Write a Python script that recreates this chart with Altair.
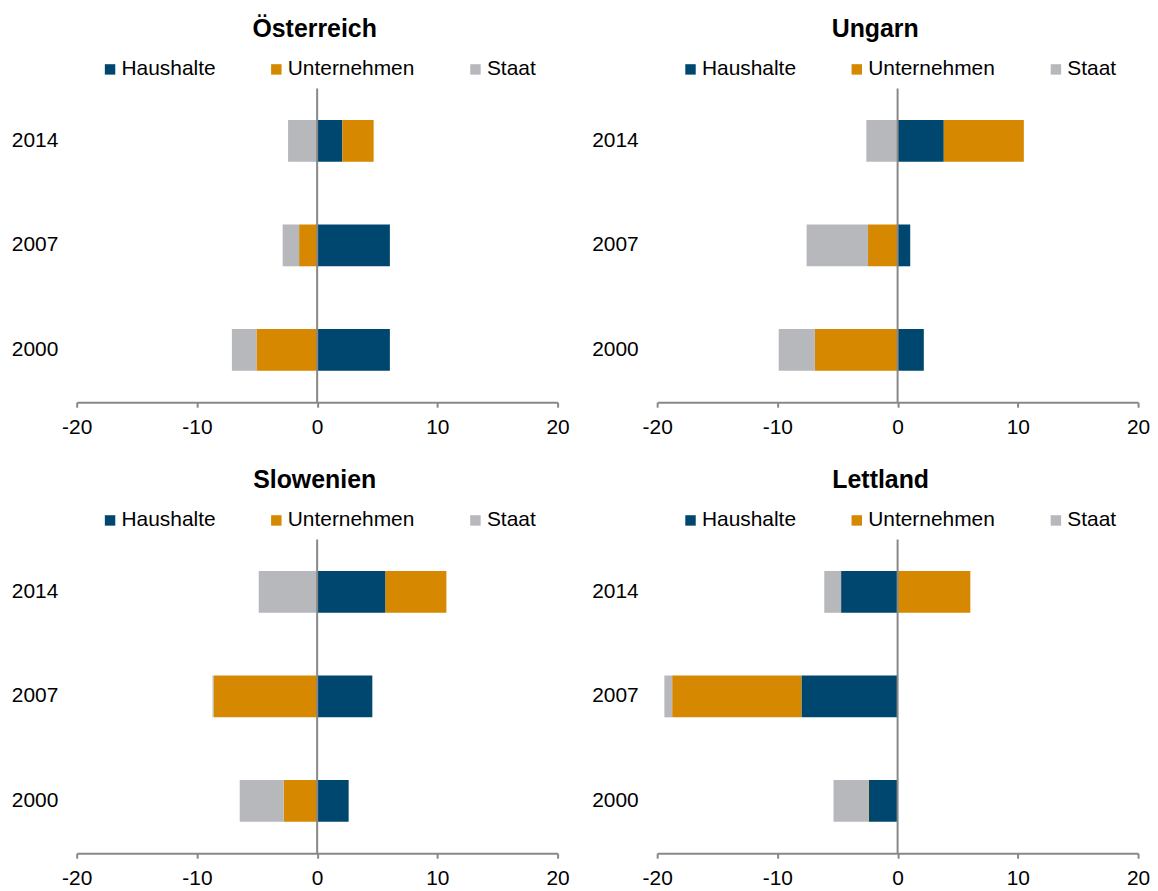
import altair as alt
import pandas as pd

countries = ["Österreich", "Ungarn", "Slowenien", "Lettland"]
years = ["2014", "2007", "2000"]
sectors = ["Haushalte", "Unternehmen", "Staat"]
colors = ["#00476F", "#D58800", "#B7B8BC"]

# values per country, in the order of `years`
haushalte = {
    "Österreich": [2.1, 6.05, 6.05],
    "Ungarn": [3.84, 1.05, 2.18],
    "Slowenien": [5.69, 4.59, 2.62],
    "Lettland": [-4.7, -8.0, -2.38],
}
unternehmen = {
    "Österreich": [2.6, -1.5, -5.05],
    "Ungarn": [6.66, -2.46, -6.88],
    "Slowenien": [5.06, -8.62, -2.79],
    "Lettland": [6.05, -10.75, -0.05],
}
staat = {
    "Österreich": [-2.42, -1.37, -2.04],
    "Ungarn": [-2.6, -5.11, -3.01],
    "Slowenien": [-4.86, -0.08, -3.65],
    "Lettland": [-1.4, -0.65, -2.9],
}
title_dx = {"Österreich": -2.5, "Ungarn": -22.5, "Slowenien": -2.5, "Lettland": -17}

rows = []
for c in countries:
    for i, y in enumerate(years):
        for rank, (s, src) in enumerate(zip(sectors, [haushalte, unternehmen, staat])):
            rows.append({"country": c, "year": y, "sector": s, "value": src[c][i], "rank": rank})
df = pd.DataFrame(rows)
zero_df = pd.DataFrame({"x": [0]})

FONT = "Liberation Sans"


def panel(country):
    d = df[df.country == country]
    xscale = alt.Scale(domain=[-20, 20], nice=False, zero=False)
    bars = alt.Chart(d).mark_bar().encode(
        x=alt.X(
            "value:Q",
            scale=xscale,
            axis=alt.Axis(
                values=[-20, -10, 0, 10, 20],
                title=None,
                grid=False,
                domainColor="#888888",
                domainWidth=2,
                tickColor="#888888",
                tickWidth=2,
                tickSize=5,
                labelPadding=9,
                labelFlush=False,
                labelFontSize=21,
                labelFont=FONT,
                labelColor="black",
                labelExpr="datum.value + ''",
            ),
        ),
        y=alt.Y(
            "year:N",
            sort=years,
            scale=alt.Scale(paddingInner=0.6, paddingOuter=0.3),
            axis=alt.Axis(
                title=None,
                domain=False,
                ticks=False,
                labelPadding=19,
                labelFontSize=21,
                labelFont=FONT,
                labelColor="black",
            ),
        ),
        color=alt.Color(
            "sector:N",
            scale=alt.Scale(domain=sectors, range=colors),
            legend=alt.Legend(
                title=None,
                orient="none",
                direction="horizontal",
                legendX=23,
                legendY=-30,
                symbolType="square",
                symbolSize=110,
                symbolStrokeWidth=0,
                labelFontSize=21,
                labelFont=FONT,
                labelColor="black",
                labelOffset=1,
                columnPadding=50,
                padding=0,
                offset=0,
            ),
        ),
        order=alt.Order("rank:Q"),
    )
    rule = alt.Chart(zero_df).mark_rule(color="#888888", strokeWidth=2).encode(
        x=alt.X("x:Q", scale=xscale)
    )
    return alt.layer(bars, rule).properties(
        width=483,
        height=315,
        title=alt.TitleParams(
            country,
            fontSize=25,
            fontWeight="bold",
            font=FONT,
            color="black",
            anchor="middle",
            frame="group",
            baseline="alphabetic",
            dx=title_dx[country],
            offset=-3,
        ),
    )


top = alt.hconcat(panel("Österreich"), panel("Ungarn"), spacing=22).resolve_scale(color="independent")
bottom = alt.hconcat(panel("Slowenien"), panel("Lettland"), spacing=22).resolve_scale(color="independent")

chart = (
    alt.vconcat(top, bottom, spacing=31)
    .resolve_scale(color="independent")
    .properties(padding={"left": 3, "top": 7, "right": 0, "bottom": 0}, background="white")
    .configure_view(stroke=None)
)

chart.save("out.html", embed_options={"renderer": "svg", "actions": False})
